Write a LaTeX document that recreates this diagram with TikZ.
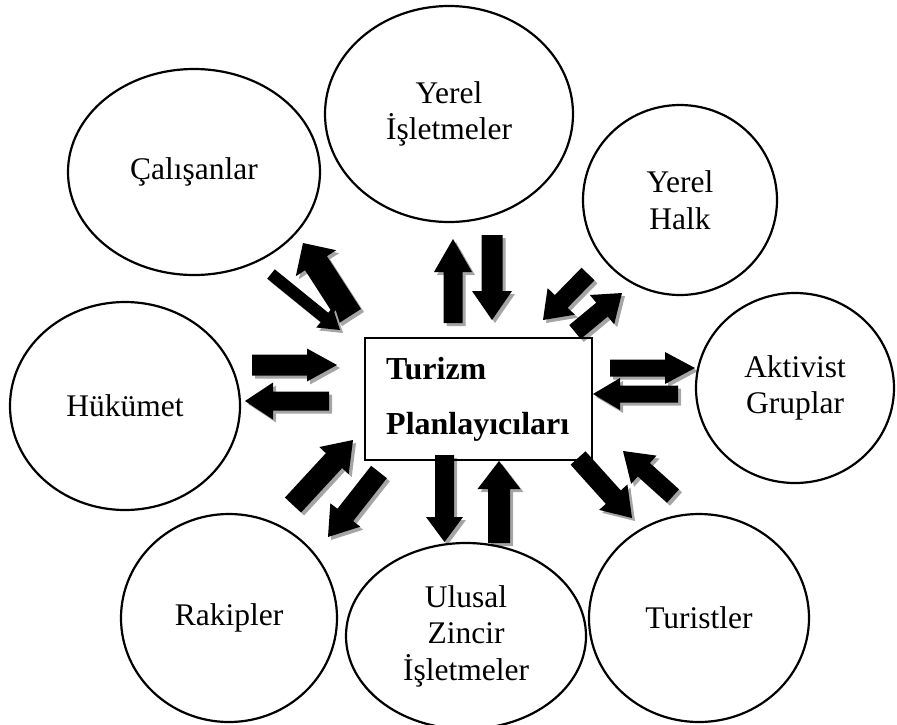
\documentclass[tikz,border=0pt]{standalone}
\usepackage{fontspec}
\setmainfont{Liberation Serif}
\usetikzlibrary{calc,shapes.geometric}

\definecolor{shadowgray}{RGB}{165,165,165}
\newcommand\partyfont{\fontsize{31.5}{36.5}\selectfont}
\newcommand\boxfont{\fontsize{32}{36}\selectfont\bfseries}

% Block arrow with a drop shadow:
% #1 tail centre, #2 tip, #3 half shaft width, #4 half head width, #5 head length (all pt)
\newcommand\blockarr[5]{%
  \coordinate (ba-t) at #1;
  \coordinate (ba-p) at #2;
  \coordinate (ba-h) at ($(ba-p)!#5pt!(ba-t)$);
  \begin{scope}[transform canvas={shift={(3,3)}}]
    \fill[shadowgray] ($(ba-t)!#3pt!90:(ba-p)$) -- ($(ba-h)!#3pt!90:(ba-p)$)
      -- ($(ba-h)!#4pt!90:(ba-p)$) -- (ba-p) -- ($(ba-h)!#4pt!-90:(ba-p)$)
      -- ($(ba-h)!#3pt!-90:(ba-p)$) -- ($(ba-t)!#3pt!-90:(ba-p)$) -- cycle;
  \end{scope}
  \fill[black] ($(ba-t)!#3pt!90:(ba-p)$) -- ($(ba-h)!#3pt!90:(ba-p)$)
    -- ($(ba-h)!#4pt!90:(ba-p)$) -- (ba-p) -- ($(ba-h)!#4pt!-90:(ba-p)$)
    -- ($(ba-h)!#3pt!-90:(ba-p)$) -- ($(ba-t)!#3pt!-90:(ba-p)$) -- cycle;
}

\tikzset{
  party/.style={draw, line width=2.2pt, ellipse, inner sep=0pt, align=center, font=\partyfont},
  planbox/.style={draw, line width=1.5pt, inner sep=0pt},
  boxtext/.style={anchor=base west, inner sep=0pt, font=\boxfont}
}

\begin{document}
\begin{tikzpicture}[x=1pt, y=-1pt]
\useasboundingbox (0,0) rectangle (897,724);

% exchange arrows around the planners
\blockarr{(350,316)}{(303,243)}{13}{24}{24}
\blockarr{(271,274)}{(340,330)}{6}{13}{20}
\blockarr{(453,323)}{(453,239)}{9.5}{19}{33}
\blockarr{(492,235)}{(492,320)}{10.5}{20}{29}
\blockarr{(588,274)}{(543,320)}{9}{19}{26}
\blockarr{(575,332)}{(622,293)}{9}{19}{26}
\blockarr{(252,365)}{(337,365)}{10.5}{16.5}{30}
\blockarr{(329,401)}{(245,401)}{9.5}{18.5}{28}
\blockarr{(610,368)}{(695,368)}{8.5}{16}{30}
\blockarr{(678,394)}{(593,394)}{8.5}{16}{27}
\blockarr{(293,505)}{(353,440)}{11}{20}{28}
\blockarr{(379,472)}{(328,537)}{10}{19}{28}
\blockarr{(444.5,455)}{(444.5,542)}{9.5}{18.5}{25}
\blockarr{(499,543)}{(499,461)}{11}{21.5}{28}
\blockarr{(578,458)}{(632,518)}{10}{19}{28}
\blockarr{(673,496)}{(623,451)}{9}{19}{28}

% central box
\node[planbox, minimum width=227pt, minimum height=122pt] (tp) at (478.5,399) {};
\node[boxtext] (tpa) at (386,379) {Turizm};
\node[boxtext] (tpb) at (386,434) {Planlayıcıları};

% stakeholders
\node[party, minimum width=252pt, minimum height=206pt] (cal) at (194,172) {Çalışanlar};
\node[party, minimum width=248pt, minimum height=216pt] (yi)  at (449,114) {Yerel\\İşletmeler};
\node[party, minimum width=194pt, minimum height=190pt] (yh)  at (680,200) {Yerel\\Halk};
\node[party, minimum width=230pt, minimum height=208pt] (hu)  at (125,406) {Hükümet};
\node[party, minimum width=198pt, minimum height=190pt] (ak)  at (795,388) {Aktivist\\Gruplar};
\node[party, minimum width=216pt, minimum height=208pt] (rak) at (229,618) {Rakipler};
\node[party, minimum width=240pt, minimum height=186pt] (ul)  at (466,636) {Ulusal\\Zincir\\İşletmeler};
\node[party, minimum width=220pt, minimum height=208pt] (tur) at (699,618) {Turistler};
\end{tikzpicture}
\end{document}
